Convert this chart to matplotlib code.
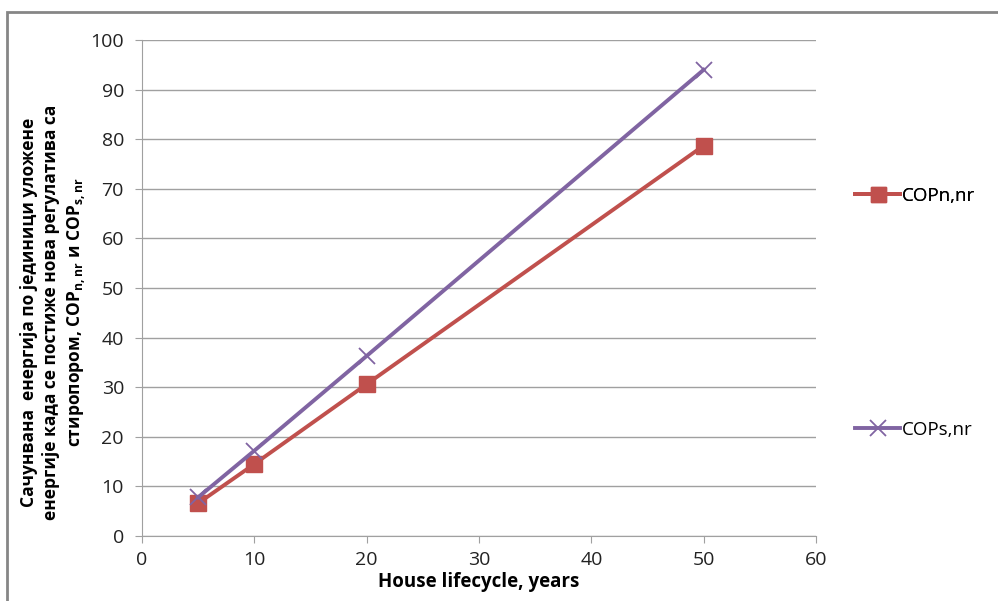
import matplotlib.pyplot as plt
from matplotlib.patches import Rectangle

plt.rcParams['font.family'] = ['Open Sans', 'DejaVu Sans']
plt.rcParams['mathtext.fontset'] = 'custom'
plt.rcParams['mathtext.bf'] = 'Open Sans:bold'
plt.rcParams['mathtext.rm'] = 'Open Sans'

years = [5, 10, 20, 50]
cop_n = [6.6, 14.5, 30.6, 78.7]
cop_s = [7.8, 17.2, 36.3, 94.0]
labels = ['COPn,nr', 'COPs,nr']

fig = plt.figure(figsize=(9.98, 6.01), dpi=100)
ax = fig.add_axes([0.1423, 0.1082, 0.6753, 0.8252])

# outer chart frame (cut off on the right and bottom)
fig.patches.append(Rectangle((7 / 998, -0.2), 2, (601 - 12) / 601 + 0.2,
                             transform=fig.transFigure, fill=False,
                             edgecolor='#868686', linewidth=2))

ln1, = ax.plot(years, cop_n, color='#C0504D', lw=2.8, marker='s', ms=12,
               label=labels[0])
ln2, = ax.plot(years, cop_s, color='#8064A2', lw=2.8, marker='x', ms=12,
               mew=1.3, label=labels[1])

ax.set_xlim(0, 60)
ax.set_ylim(0, 100)
ax.set_xticks(range(0, 61, 10))
ax.set_yticks(range(0, 101, 10))
ax.grid(axis='y', color='#A0A0A0', lw=1)
ax.set_axisbelow(True)
for s in ['top', 'right']:
    ax.spines[s].set_visible(False)
for s in ['left', 'bottom']:
    ax.spines[s].set_color('#A0A0A0')
ax.tick_params(colors='#A0A0A0', labelcolor='#222222', labelsize=14,
               length=5, direction='out')
ax.tick_params(axis='y', pad=8)
ax.tick_params(axis='x', pad=6)

ax.set_xlabel('House lifecycle, years', fontsize=13.5, fontweight='bold',
              labelpad=2)
ylab = ('Сачунвана  енергија по јединици уложене\n'
        'енергије када се постиже нова регулатива са\n'
        'стиропором, COP$_{\\mathbf{n,nr}}$ и COP$_{\\mathbf{s,nr}}$')
fig.text(0.054, 0.48, ylab, rotation=90, ha='center', va='center',
         multialignment='center', fontsize=12.5, fontweight='bold',
         linespacing=1.3)

leg1 = fig.legend(handles=[ln1], loc='center left',
                  bbox_to_anchor=(0.84, 1 - 196 / 601), frameon=False,
                  fontsize=13.5, handlelength=2.4, handletextpad=0.1,
                  markerscale=0.9)
fig.legend(handles=[ln2], loc='center left',
           bbox_to_anchor=(0.84, 1 - 430 / 601), frameon=False,
           fontsize=13.5, handlelength=2.4, handletextpad=0.1)
fig.add_artist(leg1)

fig.savefig('out.png', dpi=100)
